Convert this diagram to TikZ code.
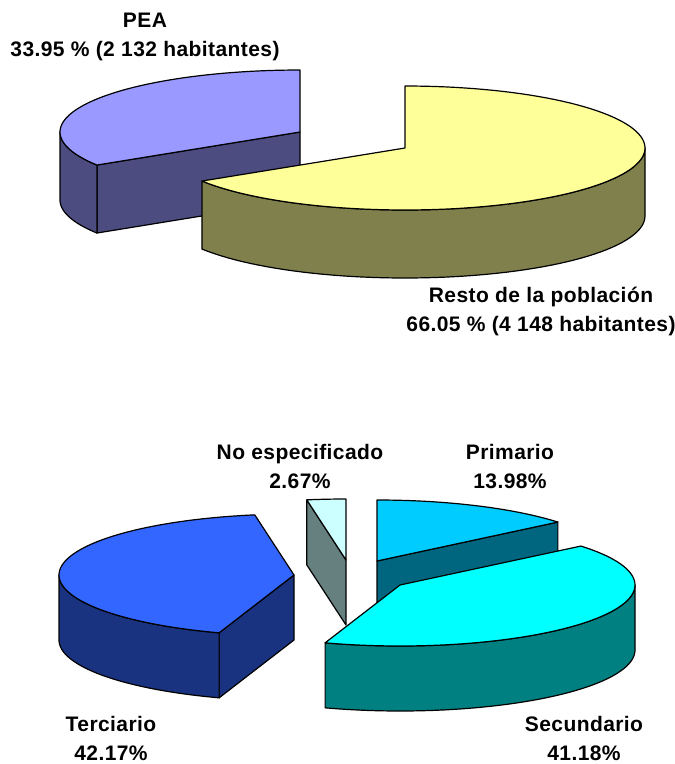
\documentclass[tikz,border=0pt]{standalone}
\usepackage{fontspec}
\setmainfont{Liberation Sans}[LetterSpace=2]
\begin{document}
\begin{tikzpicture}[x=1pt,y=-1pt,line width=1.2pt,line join=round,
  face/.style={draw=black},
  lab/.style={font=\fontsize{21}{29}\selectfont\bfseries,align=center,inner sep=0pt}]
\definecolor{peaT}{HTML}{9999FF}\definecolor{peaS}{HTML}{4C4C80}
\definecolor{resT}{HTML}{FFFF99}\definecolor{resS}{HTML}{80804D}
\definecolor{priT}{HTML}{00CCFF}\definecolor{priS}{HTML}{006680}
\definecolor{secT}{HTML}{00FFFF}\definecolor{secS}{HTML}{008080}
\definecolor{terT}{HTML}{3366FF}\definecolor{terS}{HTML}{1A3380}
\definecolor{noeT}{HTML}{CCFFFF}\definecolor{noeS}{HTML}{668080}
\useasboundingbox (0,0) rectangle (675,764);
% ---------- top pie: rx=240, ry=62, depth=68 ----------
% PEA, centre (300,132), 147.8 -> 270
\def\rx{240}\def\ry{62}\def\dp{68}
\begin{scope}[shift={(300,132)}]
  \filldraw[face,fill=peaS] (0,0) -- ({\rx*cos(147.8)},{\ry*sin(147.8)}) -- ({\rx*cos(147.8)},{\ry*sin(147.8)+\dp}) -- (0,\dp) -- cycle;
  \filldraw[face,fill=peaS] plot[domain=147.8:180,samples=20,variable=\t] ({\rx*cos(\t)},{\ry*sin(\t)})
     -- plot[domain=180:147.8,samples=20,variable=\t] ({\rx*cos(\t)},{\ry*sin(\t)+\dp}) -- cycle;
  \filldraw[face,fill=peaT] (0,0) -- plot[domain=147.8:270,samples=60,variable=\t] ({\rx*cos(\t)},{\ry*sin(\t)}) -- cycle;
\end{scope}
% Resto, centre (405,148), -90 -> 147.8
\begin{scope}[shift={(405,148)}]
  \filldraw[face,fill=resS] plot[domain=0:147.8,samples=60,variable=\t] ({\rx*cos(\t)},{\ry*sin(\t)})
     -- plot[domain=147.8:0,samples=60,variable=\t] ({\rx*cos(\t)},{\ry*sin(\t)+\dp}) -- cycle;
  \filldraw[face,fill=resT] (0,0) -- plot[domain=-90:147.8,samples=100,variable=\t] ({\rx*cos(\t)},{\ry*sin(\t)}) -- cycle;
\end{scope}
\node[lab] (pea) at (145,35) {PEA\\33.95 \% (2 132 habitantes)};
\node[lab] (resto) at (541,309) {Resto de la población\\66.05 \% (4 148 habitantes)};
% ---------- bottom pie: rx=235, ry=61, depth=65 ----------
\def\rx{235}\def\ry{61}\def\dp{65}
% Primario, centre (377,561), -90 -> -39.67
\begin{scope}[shift={(377,561)}]
  \filldraw[face,fill=priS] (0,0) -- ({\rx*cos(-39.67)},{\ry*sin(-39.67)}) -- ({\rx*cos(-39.67)},{\ry*sin(-39.67)+\dp}) -- (0,\dp) -- cycle;
  \filldraw[face,fill=priT] (0,0) -- plot[domain=-39.67:-90,samples=40,variable=\t] ({\rx*cos(\t)},{\ry*sin(\t)}) -- cycle;
\end{scope}
% No especificado, centre (346,560), 260.39 -> 270
\begin{scope}[shift={(346,560)}]
  \filldraw[face,fill=noeS] (0,0) -- ({\rx*cos(260.39)},{\ry*sin(260.39)}) -- ({\rx*cos(260.39)},{\ry*sin(260.39)+\dp}) -- (0,\dp) -- cycle;
  \filldraw[face,fill=noeT] (0,0) -- plot[domain=260.39:270,samples=10,variable=\t] ({\rx*cos(\t)},{\ry*sin(\t)}) -- cycle;
\end{scope}
% Terciario, centre (294,575), 108.58 -> 260.39
\begin{scope}[shift={(294,575)}]
  \filldraw[face,fill=terS] (0,0) -- ({\rx*cos(108.58)},{\ry*sin(108.58)}) -- ({\rx*cos(108.58)},{\ry*sin(108.58)+\dp}) -- (0,\dp) -- cycle;
  \filldraw[face,fill=terS] plot[domain=108.58:180,samples=40,variable=\t] ({\rx*cos(\t)},{\ry*sin(\t)})
     -- plot[domain=180:108.58,samples=40,variable=\t] ({\rx*cos(\t)},{\ry*sin(\t)+\dp}) -- cycle;
  \filldraw[face,fill=terT] (0,0) -- plot[domain=108.58:260.39,samples=80,variable=\t] ({\rx*cos(\t)},{\ry*sin(\t)}) -- cycle;
\end{scope}
% Secundario, centre (400,585), -39.67 -> 108.58
\begin{scope}[shift={(400,585)}]
  \filldraw[face,fill=secS] plot[domain=0:108.58,samples=60,variable=\t] ({\rx*cos(\t)},{\ry*sin(\t)})
     -- plot[domain=108.58:0,samples=60,variable=\t] ({\rx*cos(\t)},{\ry*sin(\t)+\dp}) -- cycle;
  \filldraw[face,fill=secT] (0,0) -- plot[domain=-39.67:108.58,samples=80,variable=\t] ({\rx*cos(\t)},{\ry*sin(\t)}) -- cycle;
\end{scope}
\node[lab] (noesp) at (300,466) {No especificado\\2.67\%};
\node[lab] (prim) at (510,466) {Primario\\13.98\%};
\node[lab] (terc) at (111,738) {Terciario\\42.17\%};
\node[lab] (secu) at (584,738) {Secundario\\41.18\%};
\end{tikzpicture}
\end{document}
